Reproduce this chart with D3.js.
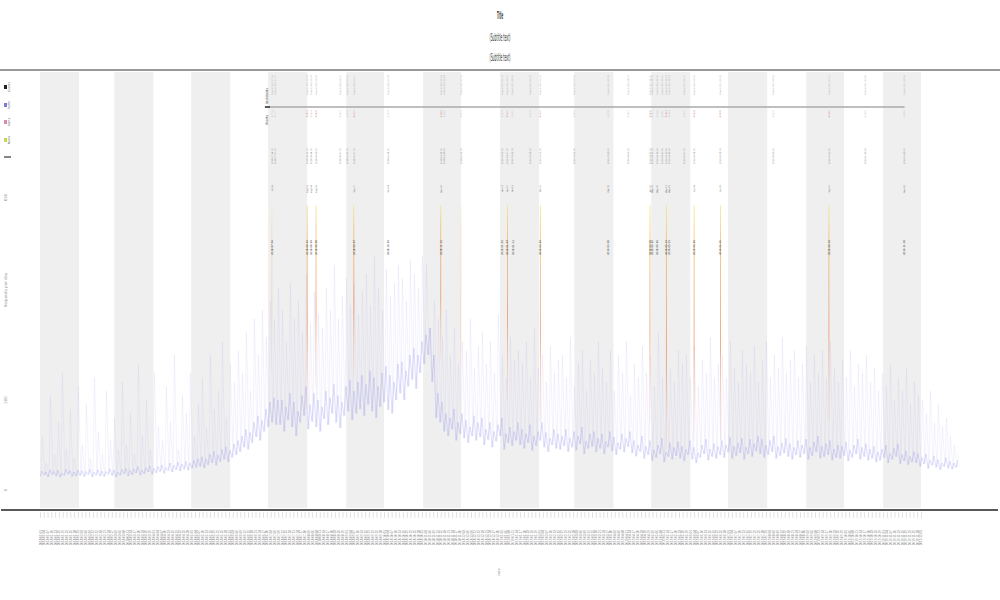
<!DOCTYPE html>
<html><head><meta charset="utf-8">
<script src="https://cdn.jsdelivr.net/npm/d3@7"></script>
<style>body{margin:0;background:#fff;font-family:"DejaVu Sans",sans-serif}</style>
</head><body><svg id="c" width="1000" height="600"></svg>
<script>
const titleLines = ["Title", "(Subtitle text)", "(Subtitle text)"];
const startDate = "2018-01-01", endDate = "2020-01-01", labelEnd = "2019-12-04";
const legendLabels = ["Events", "Traffic", "Alerts", "Notes"];
const yTickVals = [0, 200, 650];
const yTitle = "Requests per day";
const xTitle = "Date";
const timelineLabels = ["Incidents", "Alerts"];

// lower edge of the dense band, ~every 3 days
const baseVals = [
30,33,29,34,31,28,32,35,30,31, 32,30,34,29,33,31,30,35,32,29,
33,36,31,34,38,33,36,40,35,38, 41,37,43,40,45,42,46,44,48,50,
52,49,56,60,55,63,68,62,72,78, 85,95,90,105,118,110,130,140,150,145,
145,130,155,140,120,150,165,135,152,140, 130,158,145,170,150,138,165,175,155,170,
180,165,190,175,160,185,195,178,170,200, 215,200,230,245,225,260,280,300,240,160,
150,130,120,135,110,125,115,105,120,110, 118,100,112,95,108,120,90,105,98,110,
100,92,105,88,98,110,95,85,100,92, 90,98,85,95,88,102,80,92,96,84,
92,80,95,86,78,90,84,96,82,75, 85,70,78,65,72,80,62,74,68,76,
70,64,78,68,60,72,80,66,74,70, 78,72,84,70,76,82,68,80,74,86,
80,72,78,85,70,76,82,74,68,78, 72,80,68,76,84,70,74,78,66,72,
70,76,64,72,80,68,74,66,70,62, 66,72,60,68,74,58,64,56,62,60,
52,58,48,55,50,45,52,48,46,50];
// upper edge of the dense band
const bandHi = [
42,40,45,41,44,38,46,43,40,44, 43,41,46,40,45,42,41,47,44,40,
46,48,44,47,52,45,50,54,48,52, 56,50,60,55,62,58,64,60,66,70,
74,70,80,86,78,90,96,88,102,110, 120,135,128,150,165,155,180,195,205,200,
200,185,215,195,175,210,230,190,215,200, 185,220,205,235,210,195,230,245,220,240,
255,235,265,250,230,260,275,255,240,280, 285,265,300,315,300,330,345,360,300,215,
195,170,160,180,150,170,155,140,165,150, 160,135,150,130,145,160,125,140,130,150,
135,125,145,120,130,150,128,115,135,125, 120,135,115,130,120,140,108,125,130,115,
125,108,130,118,105,125,115,130,110,100, 120,97,110,90,100,115,85,105,95,107,
97,90,110,95,83,100,113,91,103,97, 110,100,117,97,105,115,95,113,103,120,
113,100,110,120,97,105,115,103,95,110, 100,113,95,107,120,97,103,110,91,100,
97,107,89,100,113,95,103,91,97,85, 91,100,81,93,103,79,87,75,85,81,
72,80,66,76,68,60,72,64,60,66];
// faint spikes
const peakVals = [
120,60,210,80,150,260,90,180,70,230, 100,190,70,250,130,80,220,110,160,90,
240,100,170,80,280,120,200,90,260,140, 110,230,150,300,90,210,170,260,120,190,
250,140,300,180,220,330,160,280,240,310, 260,350,220,380,300,400,340,420,380,450,
400,330,460,380,420,350,480,370,440,390, 360,450,400,500,380,430,470,410,460,390,
440,480,410,520,450,400,490,430,460,500, 470,420,510,480,450,520,500,360,420,380,
340,400,300,360,280,330,310,380,270,320, 350,280,330,260,390,300,250,340,290,310,
280,330,250,360,270,300,240,320,260,290, 300,250,340,230,280,310,220,290,260,330,
270,240,310,220,300,260,330,210,280,250, 320,260,300,230,350,250,290,270,240,310,
280,300,250,320,230,290,260,340,250,280, 300,250,330,270,240,310,280,260,320,240,
290,330,250,300,270,340,260,290,310,250, 280,320,240,300,260,310,250,330,270,240,
290,250,310,230,280,260,300,240,270,220, 260,230,280,200,250,220,270,190,240,210,
200,170,220,150,190,140,160,120,100,80];

const eventDates = ["2018-07-04","2018-07-07","2018-08-01","2018-08-04","2018-08-08","2018-08-27","2018-09-02","2018-09-07",
"2018-10-04","2018-11-15","2018-11-18","2018-12-01","2019-01-03","2019-01-07","2019-01-11","2019-01-25","2019-02-02",
"2019-03-01","2019-03-28","2019-04-13","2019-04-30","2019-05-02","2019-05-06","2019-05-10","2019-05-13","2019-05-15",
"2019-05-27","2019-06-04","2019-06-25","2019-08-06","2019-09-19","2019-10-18","2019-11-18"];
const eventSeverity = [2,1,3,2,3,1,1,3, 2,3,1,1,2,3,2,1,3, 1,2,1,3,2,2,1,3,2, 1,3,3,1,3,1,2];
const eventPeak = [260,0,180,0,230,0,0,250, 0,290,0,160,0,200,0,0,150, 0,0,0,150,0,0,0,90,0, 0,110,110,0,150,0,0];
const eventLabels = eventDates.map(d => "Event " + d);

const svg = d3.select("#c");
const parse = d3.timeParse("%Y-%m-%d");
const t0 = parse(startDate), t1 = parse(endDate);
const x = d3.scaleTime().domain([t0, t1]).range([40, 960]);
const y = d3.scaleLinear().domain([0, 922]).range([490, 75]);
const xi = d3.scaleLinear().domain([0, baseVals.length]).range([40, 960]);

const defs = svg.append("defs");
const g = defs.append("linearGradient").attr("id","evg").attr("x1",0).attr("y1",0).attr("x2",0).attr("y2",1);
g.append("stop").attr("offset","0%").attr("stop-color","#f6e27a");
g.append("stop").attr("offset","15%").attr("stop-color","#f2b050");
g.append("stop").attr("offset","60%").attr("stop-color","#e8804a");
g.append("stop").attr("offset","100%").attr("stop-color","#f0b090").attr("stop-opacity",0.3);

// month bands
const months = d3.timeMonth.range(t0, t1);
svg.append("g").selectAll("rect").data(months).join("rect")
  .attr("x", d => x(d)).attr("y", 72)
  .attr("width", d => x(d3.timeMonth.offset(d,1)) - x(d)).attr("height", 436)
  .attr("fill", (d,i) => i % 2 === 0 ? "#efefef" : "none");

svg.append("line").attr("x1",0).attr("x2",1000).attr("y1",70).attr("y2",70).attr("stroke","#999").attr("stroke-width",2);
svg.append("line").attr("x1",1).attr("x2",998).attr("y1",510).attr("y2",510).attr("stroke","#222").attr("stroke-width",1.5);

titleLines.forEach((t,i) => {
  svg.append("text").attr("x",500).attr("y",[19,41,61][i]).attr("text-anchor","middle")
    .attr("font-size",11).attr("fill","#333").attr("font-weight", i===0?"bold":"normal")
    .attr("textLength", i===0?6:21).attr("lengthAdjust","spacingAndGlyphs").text(t);
});

const legColors = ["#222","#7a7ad8","#d88ab8","#c8d84a"];
legendLabels.forEach((l,i) => {
  const cy = [87,105,122,140][i];
  svg.append("rect").attr("x",4).attr("y",cy-2).attr("width",3).attr("height",4).attr("fill",legColors[i]);
  svg.append("text").attr("transform",`translate(10,${cy}) rotate(-90)`).attr("text-anchor","middle")
    .attr("font-size",3).attr("fill","#666").text(l);
});
svg.append("line").attr("x1",4).attr("x2",11).attr("y1",157).attr("y2",157).attr("stroke","#333").attr("stroke-width",1.2);

svg.append("g").selectAll("text").data(yTickVals).join("text")
  .attr("transform", d => `translate(7,${y(d)}) rotate(-90)`).attr("text-anchor","middle")
  .attr("font-size",4).attr("fill","#999").text(d => d);
svg.append("text").attr("transform","translate(7,290) rotate(-90)").attr("text-anchor","middle")
  .attr("font-size",4).attr("fill","#999").text(yTitle);

const xTicks = d3.timeDay.range(t0, parse(labelEnd), 3);
const xa = svg.append("g").attr("transform","translate(0,512)")
  .call(d3.axisBottom(x).tickValues(xTicks).tickSize(6).tickFormat(d3.timeFormat("%Y-%m-%d")));
xa.select(".domain").remove();
xa.selectAll("line").attr("stroke","#ccc").attr("stroke-width",0.6);
xa.selectAll("text").attr("transform","translate(0,18) rotate(-90)").attr("y",0).attr("dy","0.35em")
  .attr("text-anchor","end").attr("font-size",3).attr("fill","#777");
svg.append("text").attr("transform","translate(500,572) rotate(-90)").attr("text-anchor","middle")
  .attr("font-size",3).attr("fill","#777").text(xTitle);

// series: faint spikes and dense band
const spikePts = [], bandPts = [];
baseVals.forEach((v,i) => {
  spikePts.push([xi(i+0.25), y(v)]); spikePts.push([xi(i+0.6), y(peakVals[i])]);
  bandPts.push([xi(i), y(v)]); bandPts.push([xi(i+0.5), y(bandHi[i])]);
});
svg.append("path").attr("d", d3.line()(spikePts)).attr("fill","none")
  .attr("stroke","#b0a8f0").attr("stroke-width",0.4).attr("stroke-opacity",0.35);
svg.append("path").attr("d", d3.line()(bandPts)).attr("fill","none")
  .attr("stroke","#7070e8").attr("stroke-width",0.5).attr("stroke-opacity",0.45);

// events
const ev = eventDates.map((d,i) => ({date: parse(d), sev: eventSeverity[i], peak: eventPeak[i], label: eventLabels[i]}));
const ex0 = x(ev[0].date), ex1 = x(ev[ev.length-1].date);
svg.append("line").attr("x1",ex0-3).attr("x2",ex1).attr("y1",107).attr("y2",107).attr("stroke","#aaa").attr("stroke-width",1.5);
svg.append("text").attr("transform",`translate(${ex0-4},96) rotate(-90)`).attr("text-anchor","middle")
  .attr("font-size",3.5).attr("fill","#555").text(timelineLabels[0]);
svg.append("line").attr("x1",ex0-7).attr("x2",ex0-2).attr("y1",107).attr("y2",107).attr("stroke","#222").attr("stroke-width",1.5);
svg.append("text").attr("transform",`translate(${ex0-4},120) rotate(-90)`).attr("text-anchor","middle")
  .attr("font-size",3.5).attr("fill","#555").text(timelineLabels[1]);

const eg = svg.append("g").selectAll("g").data(ev).join("g").attr("transform", d => `translate(${x(d.date)},0)`);
eg.filter(d => d.peak > 0).append("rect").attr("x",-0.4).attr("width",0.8)
  .attr("y",205).attr("height", d => y(d.peak) - 205).attr("fill","url(#evg)")
  .attr("opacity", d => d.sev === 3 ? 0.8 : 0.3);
eg.append("text").attr("transform","translate(0,75) rotate(-90)").attr("text-anchor","end").attr("dy","0.35em")
  .attr("font-size",2.2).attr("fill","#aaa").text(d => d.label);
eg.append("text").attr("transform","translate(0,110) rotate(-90)").attr("text-anchor","end").attr("dy","0.35em")
  .attr("font-size",2.2).attr("fill", d => d.sev === 3 ? "#e07070" : "#c0c0c0").text(d => "#" + d3.timeFormat("%m%d")(d.date));
eg.append("text").attr("transform","translate(0,148) rotate(-90)").attr("text-anchor","end").attr("dy","0.35em")
  .attr("font-size",2.2).attr("fill","#777").text(d => d3.timeFormat("%Y-%m-%d %H")(d.date));
eg.filter(d => d.sev >= 2).append("text").attr("transform","translate(0,185) rotate(-90)").attr("text-anchor","end").attr("dy","0.35em")
  .attr("font-size",2.2).attr("fill","#666").text(d => d3.timeFormat("%b %d")(d.date));
eg.filter(d => d.sev >= 2).append("text").attr("transform","translate(0,240) rotate(-90)").attr("text-anchor","end").attr("dy","0.35em")
  .attr("font-size",2.6).attr("fill","#333").text(d => d3.timeFormat("%Y-%m-%d")(d.date));
</script></body></html>
